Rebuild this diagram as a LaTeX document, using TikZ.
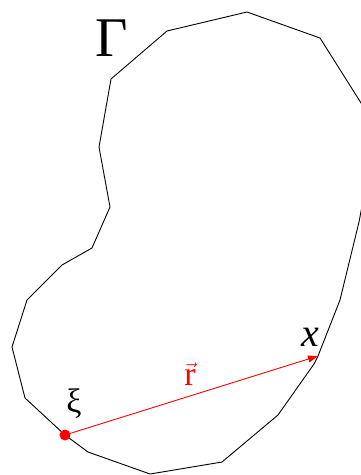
\documentclass[tikz,border=0pt]{standalone}
\usepackage{fontspec}
\setmainfont{Liberation Serif}
\usetikzlibrary{arrows.meta}
\begin{document}
\begin{tikzpicture}[x=1pt,y=-1pt,
  boundary/.style={draw=black,line width=0.9pt,line join=miter},
  vec/.style={draw=red,line width=0.9pt,-{Triangle[length=10pt,width=7pt]}},
  srcdot/.style={circle,fill=red,inner sep=0pt,minimum size=11pt},
  lbl/.style={inner sep=0pt}]
\useasboundingbox (0,0) rectangle (361,475);
\clip (0,0) rectangle (361,475);
\draw[boundary] (247,12) -- (320,38) -- (368,114) -- (366,185) -- (359,222)
  -- (340,300) -- (318,356) -- (314,364) -- (278,415) -- (222,462)
  -- (150,474) -- (88,452) -- (65,435) -- (25,398) -- (12,347)
  -- (27,300) -- (62,265) -- (92,248) -- (110,207) -- (99,147)
  -- (111,79) -- (167,31) -- cycle;
\node[srcdot] (xi) at (65,435) {};
\coordinate (xpt) at (318,356);
\draw[vec] (xi.center) -- (xpt);
\node[lbl] (gamma) at (112,38) {\fontsize{56}{56}\selectfont Γ};
\node[lbl] (xilbl) at (74,404) {\fontsize{34}{34}\selectfont ξ};
\node[lbl] (xlbl) at (310,337) {\fontsize{40}{40}\selectfont\itshape x};
\node[lbl,text=red] (rlbl) at (190,374) {\fontsize{34}{34}\selectfont$\vec{\mathrm{r}}$};
\end{tikzpicture}
\end{document}
